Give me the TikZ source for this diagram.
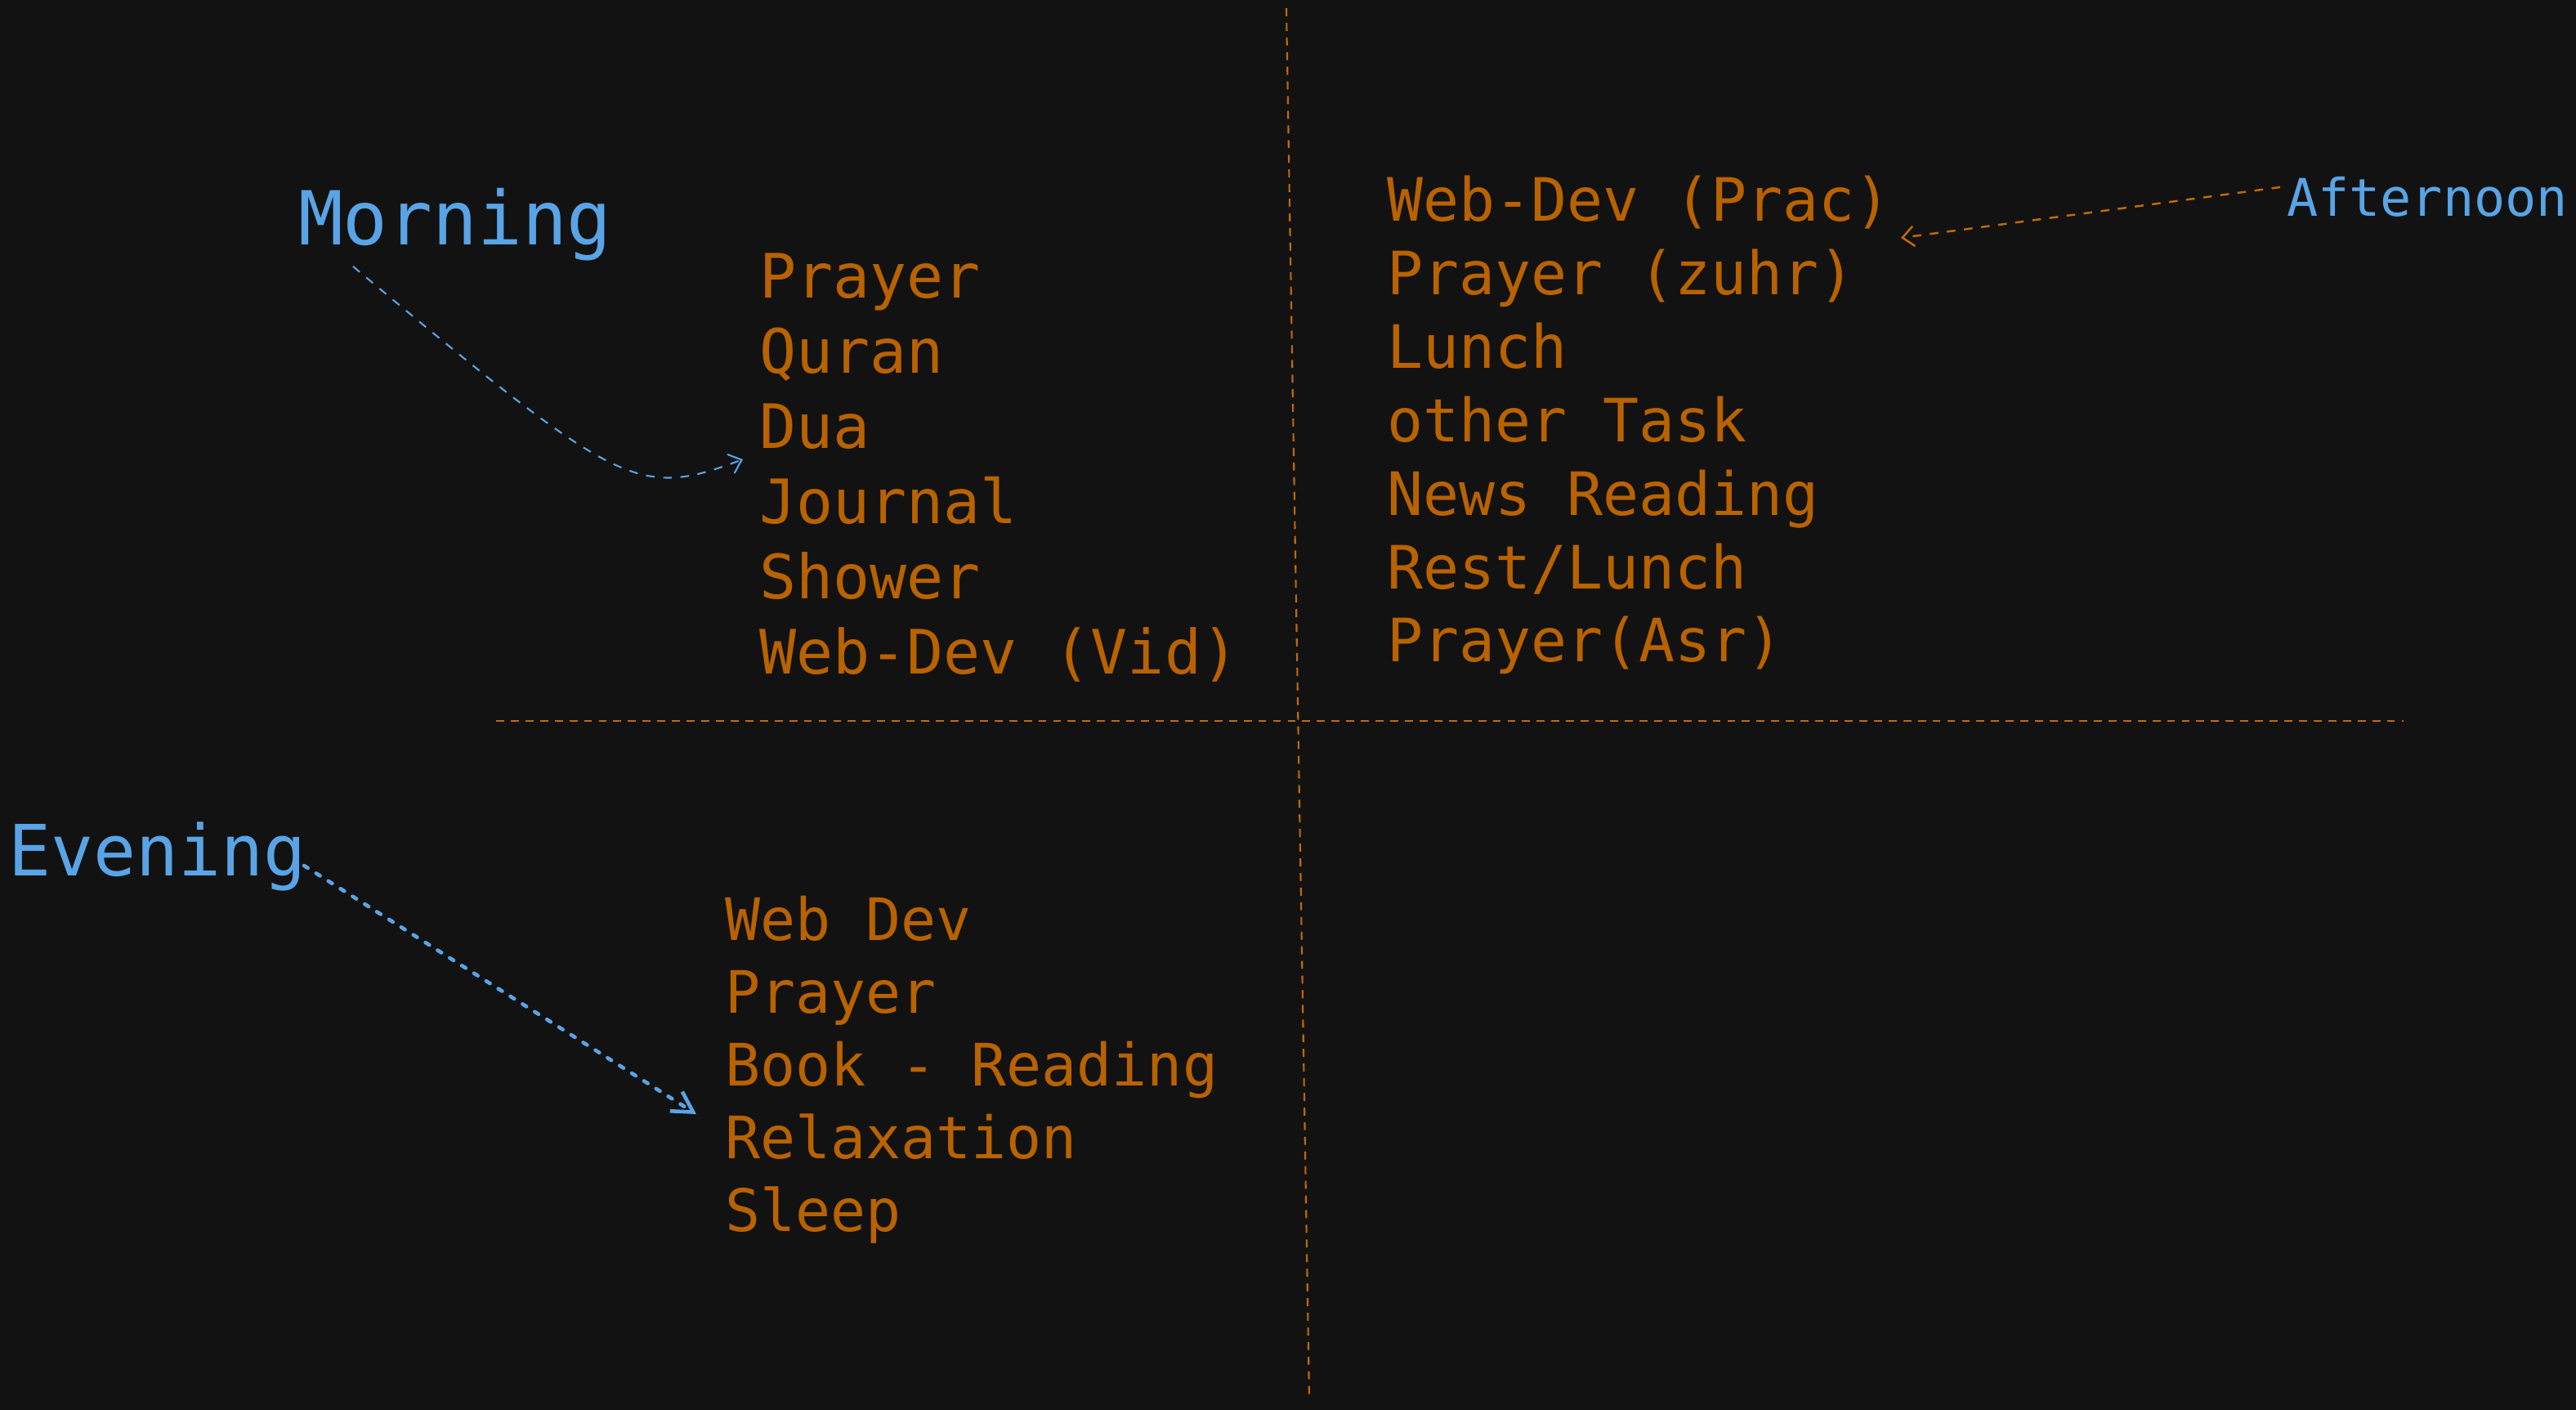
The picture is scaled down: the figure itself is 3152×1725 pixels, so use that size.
\documentclass[tikz,border=0pt]{standalone}
\usepackage{fontspec}
\setmonofont{DejaVu Sans Mono}
\usetikzlibrary{arrows.meta}
\definecolor{bg}{RGB}{18,18,18}
\definecolor{ora}{RGB}{184,98,0}
\definecolor{oraline}{RGB}{196,106,4}
\definecolor{blu}{RGB}{88,164,230}
\begin{document}
\begin{tikzpicture}[x=0.01cm,y=-0.01cm,
  item/.style={anchor=base west,inner sep=0,outer sep=0,text=ora},
  colA/.style={item,font=\ttfamily\fontsize{21.3pt}{21.3pt}\selectfont},
  colB/.style={item,font=\ttfamily\fontsize{20.8pt}{20.8pt}\selectfont},
  colC/.style={item,font=\ttfamily\fontsize{20.35pt}{20.35pt}\selectfont},
  lbl/.style={anchor=base west,inner sep=0,outer sep=0,text=blu},
  divider/.style={draw=oraline,line width=0.6pt,dash pattern=on 2.8pt off 2.3pt},
  bluearrow/.style={draw=blu,line width=0.6pt,dash pattern=on 3pt off 3pt,-{Straight Barb[length=4pt,width=7pt]}},
  orarrow/.style={draw=oraline,line width=0.7pt,dash pattern=on 3pt off 3pt,-{Straight Barb[length=4pt,width=7pt]}},
  evarrow/.style={draw=blu,line width=1.3pt,line cap=round,dash pattern=on 1.6pt off 3.4pt,-{Straight Barb[length=7pt,width=8pt]}}
]
\fill[bg] (0,0) rectangle (3152,1725);
\useasboundingbox (0,0) rectangle (3152,1725);

% dividers
\coordinate (vtop) at (1574,10);
\coordinate (vbot) at (1602,1713);
\coordinate (hl) at (607,882);
\coordinate (hr) at (2941,882);
\path[divider] (vtop) -- (vbot);
\path[divider] (hl) -- (hr);

% labels
\node[lbl,font=\ttfamily\fontsize{25.9pt}{25.9pt}\selectfont] (morning) at (365,300) {Morning};
\node[lbl,font=\ttfamily\fontsize{18.05pt}{18.05pt}\selectfont] (afternoon) at (2798,265) {Afternoon};
\node[lbl,font=\ttfamily\fontsize{24.6pt}{24.6pt}\selectfont] (evening) at (10,1071) {Evening};

% morning column
\foreach \t [count=\i] in {Prayer,Quran,Dua,Journal,Shower,{Web-Dev (Vid)}}
  \node[colA] (m\i) at (929,{365+91.8*(\i-1)}) {\t};

% afternoon column
\foreach \t [count=\i] in {{Web-Dev (Prac)},{Prayer (zuhr)},Lunch,{other Task},{News Reading},{Rest/Lunch},{Prayer(Asr)}}
  \node[colB] (a\i) at (1697,{271+89.8*(\i-1)}) {\t};

% evening column
\foreach \t [count=\i] in {{Web Dev},Prayer,{Book - Reading},Relaxation,Sleep}
  \node[colC] (e\i) at (887,{1150+89*(\i-1)}) {\t};

% connectors
\coordinate (ms) at (432,326);
\coordinate (me) at (909,562);
\path[bluearrow] (ms) .. controls (760,600) and (780,610) .. (me);

\coordinate (as) at (2790,229);
\coordinate (ae) at (2326,291);
\path[orarrow] (as) -- (ae);

\coordinate (es) at (372,1059);
\coordinate (ee) at (852,1363);
\path[evarrow] (es) -- (ee);
\end{tikzpicture}
\end{document}
